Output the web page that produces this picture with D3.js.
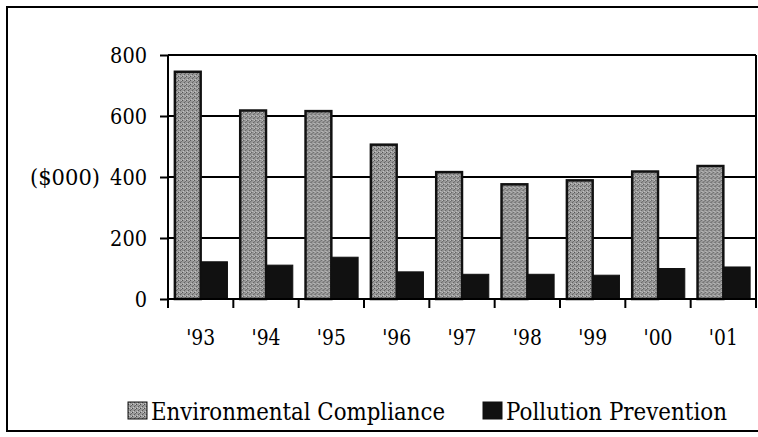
<!DOCTYPE html>
<meta charset="utf-8">
<style>
body { margin: 0; background: #fff; }
.grid line { stroke: #000; stroke-width: 2px; }
.axis path, .axis line { stroke: #000; stroke-width: 2px; }
</style>
<svg></svg>
<script src="https://d3js.org/d3.v7.min.js"></script>
<script>

var years = ["'93", "'94", "'95", "'96", "'97", "'98", "'99", "'00", "'01"];
var compliance = [745, 618, 616, 506, 416, 376, 389, 418, 436];
var prevention = [122, 111, 137, 89, 81, 81, 78, 100, 105];
var yTicks = [0, 200, 400, 600, 800];
var seriesNames = ['Environmental Compliance', 'Pollution Prevention'];
var seriesColors = ['url(#stipple)', '#111'];

// only serif face that resolves here; squeeze it to Times-like widths
var serif = 'DejaVu Serif';
var digitWidth = 12.3;
var legendWidths = [294, 221];

var width = 758, height = 437;
var plot = { left: 168, right: 756, top: 55, bottom: 299 };

var svg = d3.select('svg')
  .attr('width', width)
  .attr('height', height);

// gray stipple like the scanned fill
var defs = svg.append('defs');
var pat = defs.append('pattern')
  .attr('id', 'stipple')
  .attr('width', 4).attr('height', 4)
  .attr('patternUnits', 'userSpaceOnUse');
pat.append('rect').attr('width', 4).attr('height', 4).attr('fill', '#9a9a9a');
pat.append('rect').attr('x', 0).attr('y', 0).attr('width', 1).attr('height', 1).attr('fill', '#4a4a4a');
pat.append('rect').attr('x', 2).attr('y', 2).attr('width', 1).attr('height', 1).attr('fill', '#5a5a5a');
pat.append('rect').attr('x', 3).attr('y', 1).attr('width', 1).attr('height', 1).attr('fill', '#6a6a6a');
pat.append('rect').attr('x', 3).attr('y', 0).attr('width', 1).attr('height', 1).attr('fill', '#c8c8c8');
pat.append('rect').attr('x', 1).attr('y', 3).attr('width', 1).attr('height', 1).attr('fill', '#c8c8c8');

// outer frame (right edge runs off the picture)
svg.append('path')
  .attr('d', 'M' + width + ',7H7V431H' + width)
  .attr('fill', 'none')
  .attr('stroke', '#000')
  .attr('stroke-width', 2);

var x = d3.scaleBand()
  .domain(years)
  .range([plot.left, plot.right])
  .paddingInner(0.18)
  .paddingOuter(0.09);

var x1 = d3.scaleBand()
  .domain(seriesNames)
  .range([0, x.bandwidth()]);

var y = d3.scaleLinear()
  .domain([0, 800])
  .range([plot.bottom, plot.top]);

// gridlines
svg.append('g')
  .attr('class', 'grid')
  .selectAll('line')
  .data(yTicks.slice(1))
  .enter().append('line')
  .attr('x1', plot.left)
  .attr('x2', plot.right)
  .attr('y1', function (d) { return y(d); })
  .attr('y2', function (d) { return y(d); });

// plot area right edge
svg.append('line')
  .attr('x1', plot.right).attr('x2', plot.right)
  .attr('y1', y(800)).attr('y2', y(0))
  .attr('stroke', '#000').attr('stroke-width', 2);

// bars
var groups = svg.append('g')
  .selectAll('g')
  .data(years)
  .enter().append('g')
  .attr('transform', function (d) { return 'translate(' + x(d) + ',0)'; });

groups.append('rect')
  .attr('x', x1(seriesNames[0]) + 1)
  .attr('y', function (d, i) { return y(compliance[i]); })
  .attr('width', x1.bandwidth() - 1)
  .attr('height', function (d, i) { return y(0) - y(compliance[i]); })
  .attr('fill', seriesColors[0])
  .attr('stroke', '#111')
  .attr('stroke-width', 2.5);

groups.append('rect')
  .attr('x', x1(seriesNames[1]))
  .attr('y', function (d, i) { return y(prevention[i]); })
  .attr('width', x1.bandwidth())
  .attr('height', function (d, i) { return y(0) - y(prevention[i]); })
  .attr('fill', seriesColors[1])
  .attr('stroke', '#111')
  .attr('stroke-width', 1);

// y axis
var yAxis = svg.append('g')
  .attr('class', 'axis')
  .attr('transform', 'translate(' + plot.left + ',0)')
  .call(d3.axisLeft(y).tickValues(yTicks).tickSize(8).tickSizeOuter(0).tickPadding(13));
yAxis.select('.domain').attr('d', 'M0,' + y(0) + 'V' + y(800));
yAxis.selectAll('text')
  .attr('font-family', serif)
  .attr('font-size', 23)
  .attr('fill', '#000')
  .attr('textLength', function (d) { return String(d).length * digitWidth; })
  .attr('lengthAdjust', 'spacingAndGlyphs');

svg.append('text')
  .attr('x', 30)
  .attr('y', y(400))
  .attr('dy', '0.35em')
  .attr('font-family', serif)
  .attr('font-size', 23)
  .attr('textLength', 70)
  .attr('lengthAdjust', 'spacingAndGlyphs')
  .text('($000)');

// x axis
var xAxis = svg.append('g')
  .attr('class', 'axis')
  .attr('transform', 'translate(0,' + plot.bottom + ')');
xAxis.append('line')
  .attr('x1', plot.left).attr('x2', plot.right)
  .attr('y1', 0).attr('y2', 0);
var step = x.step();
xAxis.selectAll('.xtick')
  .data(d3.range(years.length + 1))
  .enter().append('line')
  .attr('class', 'xtick')
  .attr('x1', function (i) { return plot.left + i * step; })
  .attr('x2', function (i) { return plot.left + i * step; })
  .attr('y1', 0).attr('y2', 9);
xAxis.selectAll('text.xl')
  .data(years)
  .enter().append('text')
  .attr('class', 'xl')
  .attr('x', function (d) { return x(d) + x.bandwidth() / 2; })
  .attr('y', 46)
  .attr('text-anchor', 'middle')
  .attr('font-family', serif)
  .attr('font-size', 23)
  .attr('textLength', 29)
  .attr('lengthAdjust', 'spacingAndGlyphs')
  .text(function (d) { return d; });

// legend
var legend = svg.append('g').attr('class', 'legend');
var legendX = [128, 483];
seriesNames.forEach(function (name, i) {
  legend.append('rect')
    .attr('x', legendX[i]).attr('y', 402)
    .attr('width', 19).attr('height', 17)
    .attr('fill', seriesColors[i])
    .attr('stroke', '#111')
    .attr('stroke-width', 1);
  legend.append('text')
    .attr('x', legendX[i] + 23)
    .attr('y', 420)
    .attr('font-family', serif)
    .attr('font-size', 24)
    .attr('textLength', legendWidths[i])
    .attr('lengthAdjust', 'spacingAndGlyphs')
    .text(name);
});

</script>
